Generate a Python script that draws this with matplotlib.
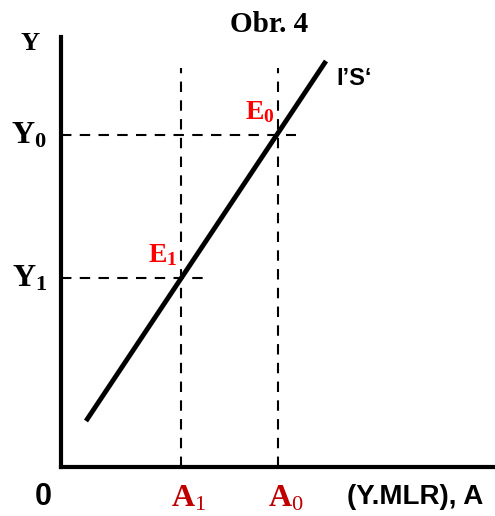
import matplotlib.pyplot as plt

plt.rcParams['mathtext.fontset'] = 'custom'
plt.rcParams['mathtext.rm'] = 'Liberation Serif'
plt.rcParams['mathtext.bf'] = 'Liberation Serif:bold'
plt.rcParams['mathtext.it'] = 'Liberation Serif:italic'

# I'S' line (A, Y) endpoints
line_a = [25, 265]
line_y = [46, 406]
# equilibrium points E1, E0
a_vals = [120, 217]
y_vals = [189, 332]
a_labels = [r'$\mathbf{A}_\mathrm{1}$', r'$\mathbf{A}_\mathrm{0}$']
y_labels = [r'$\mathbf{Y}_\mathbf{1}$', r'$\mathbf{Y}_\mathbf{0}$']
e_labels = [r'$\mathbf{E}_\mathbf{1}$', r'$\mathbf{E}_\mathbf{0}$']
h_ends = [144, 235]
v_top = 399

W, H = 495, 516
fig = plt.figure(figsize=(W / 100, H / 100), dpi=100)
ax = fig.add_axes([61 / W, 49 / H, 434 / W, 430 / H])
ax.set_xlim(0, 434)
ax.set_ylim(0, 430)
for s in ['top', 'right']:
    ax.spines[s].set_visible(False)
for s in ['left', 'bottom']:
    ax.spines[s].set_linewidth(3)
ax.set_xticks([])
ax.set_yticks([])

dash = dict(color='black', lw=1.5, dashes=(5, 4), zorder=1)
for a, y, he in zip(a_vals, y_vals, h_ends):
    ax.plot([a, a], [0, v_top], **dash)
    ax.plot([0, he], [y, y], **dash)

ax.plot(line_a, line_y, color='black', lw=3.5, solid_capstyle='butt', zorder=2)

sans = dict(family='Liberation Sans', fontweight='bold')
ax.text(0.48, 1.03, 'Obr. 4', transform=ax.transAxes, ha='center', va='center',
        family='Liberation Serif', fontweight='bold', fontsize=21)
ax.text(-0.048, 0.985, r'$\mathbf{Y}$', transform=ax.transAxes, ha='right', va='center', fontsize=19)
ax.text(275, 388, "I\u2019S\u2018", ha='left', va='center', fontsize=17, **sans)

for a, y, yl, el, al in zip(a_vals, y_vals, y_labels, e_labels, a_labels):
    ax.text(-14, y, yl, ha='right', va='center', fontsize=23, clip_on=False)
    ax.text(a - 3, y + 10, el, ha='right', va='bottom', fontsize=20, color='#ff0000')
    ax.text(a + 8, -31, al, ha='center', va='center', fontsize=23, color='#c00000', clip_on=False)

ax.text(-18, -30, '0', ha='center', va='center', fontsize=22, clip_on=False, **sans)
ax.text(354, -30, '(Y.MLR), A', ha='center', va='center', fontsize=20, clip_on=False, **sans)

plt.savefig('out.png', dpi=100)
